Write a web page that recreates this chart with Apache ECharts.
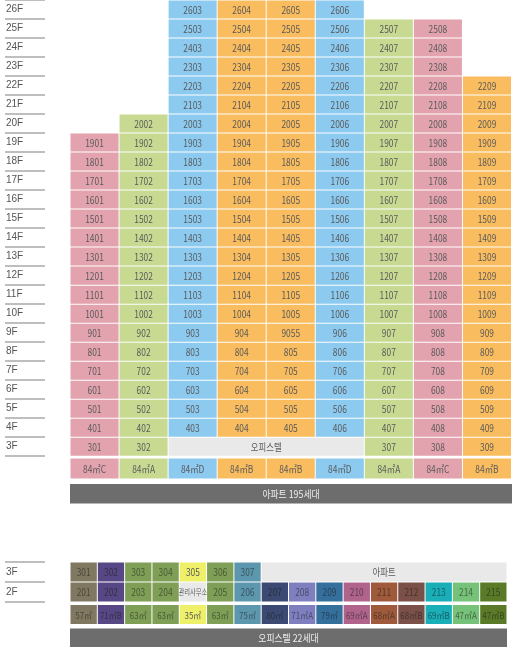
<!DOCTYPE html>
<html><head><meta charset="utf-8">
<script src="https://cdn.jsdelivr.net/npm/echarts@6/dist/echarts.min.js"></script>
<style>html,body{margin:0;padding:0;background:#fff}#c{width:512px;height:647px}</style>
</head><body><div id="c"></div><script>
// ---------- data ----------
const floors = ['3F','4F','5F','6F','7F','8F','9F','10F','11F','12F','13F','14F','15F','16F','17F','18F','19F','20F','21F','22F','23F','24F','25F','26F'];
const floorNumbers = [3,4,5,6,7,8,9,10,11,12,13,14,15,16,17,18,19,20,21,22,23,24,25,26];
const topColumns = ['01','02','03','04','05','06','07','08','09'];
const topColumnTypes = ['84㎡C','84㎡A','84㎡D','84㎡B','84㎡B','84㎡D','84㎡A','84㎡C','84㎡B'];
const topColumnLowFloor = [3,3,4,4,4,4,3,3,3];
const topColumnHighFloor = [19,20,26,26,26,26,25,25,22];
const topOfficetelFloor = 3, topOfficetelFrom = 2, topOfficetelTo = 5, topOfficetelLabel = '오피스텔';
const topLabelFixes = {'9-05': '9055'};
const topTotalLabel = '아파트 195세대';

const bottomFloors = ['2F','3F'];
const bottomRow3 = ['301','302','303','304','305','306','307'];
const bottomRow3Rest = '아파트';
const bottomRow2 = ['201','202','203','204','관리사무소','205','206','207','208','209','210','211','212','213','214','215'];
const bottomTypes = ['57㎡','71㎡B','63㎡','63㎡','35㎡','63㎡','75㎡','80㎡','71㎡A','79㎡','69㎡A','68㎡A','68㎡B','69㎡B','47㎡A','47㎡B'];
const bottomTotalLabel = '오피스텔 22세대';

// ---------- styles ----------
const topTypeColor = {'84㎡C':'#e3a3ae','84㎡A':'#c8da92','84㎡D':'#8ccaf0','84㎡B':'#f9bc5e'};
const bottomTypeColor = {'57㎡':'#807860','71㎡B':'#574785','63㎡':'#7e9f55','35㎡':'#eef06a','75㎡':'#5d97ae','80㎡':'#3c4a73','71㎡A':'#7f7fc0','79㎡':'#356f9b','69㎡A':'#b0648c','68㎡A':'#9e5a3a','68㎡B':'#7a5048','69㎡B':'#1aaeb8','47㎡A':'#76c279','47㎡B':'#5b7a28'};
const FONT = '"Noto Sans CJK KR","Liberation Sans",sans-serif';
const lightText = '#5a5a5a';
const darkText = 'rgba(25,25,25,0.55)';
const grayCell = '#e9e9e9';
const barColor = '#6d6d6d';
const textSqueeze = 0.84;

// ---------- build cells ----------
const topCells = [];
topColumns.forEach((c, ci) => {
  floorNumbers.forEach((f, fi) => {
    if (f < topColumnLowFloor[ci] || f > topColumnHighFloor[ci]) return;
    const key = f + '-' + c;
    topCells.push({value:[ci, ci, fi], label: topLabelFixes[key] || (String(f) + c), fill: topTypeColor[topColumnTypes[ci]], textFill: lightText, size: 10});
  });
});
topCells.push({value:[topOfficetelFrom, topOfficetelTo, floorNumbers.indexOf(topOfficetelFloor)], label: topOfficetelLabel, fill: grayCell, textFill: lightText, size: 10});

const topTypeCells = topColumnTypes.map((t, ci) => ({value:[ci, ci, 0], label: t, fill: topTypeColor[t], textFill: lightText, size: 10}));
const topBarCells = [{value:[0, 0, 0], label: topTotalLabel, fill: barColor, textFill: '#eeeeee', size: 10.5}];

const bottomCells = [];
bottomRow3.forEach((u, ci) => bottomCells.push({value:[ci, ci, 1], label: u, fill: bottomTypeColor[bottomTypes[ci]], textFill: bottomTypes[ci] === '35㎡' ? lightText : darkText, size: 10}));
bottomCells.push({value:[bottomRow3.length, bottomTypes.length - 1, 1], label: bottomRow3Rest, fill: grayCell, textFill: lightText, size: 10});
bottomRow2.forEach((u, ci) => {
  const isOffice = u === '관리사무소';
  bottomCells.push({value:[ci, ci, 0], label: u, fill: isOffice ? grayCell : bottomTypeColor[bottomTypes[ci]], textFill: isOffice || bottomTypes[ci] === '35㎡' ? lightText : darkText, size: isOffice ? 7.5 : 10});
});
const bottomTypeCells = bottomTypes.map((t, ci) => ({value:[ci, ci, 0], label: t, fill: bottomTypeColor[t], textFill: t === '35㎡' ? lightText : darkText, size: 9.5}));
const bottomBarCells = [{value:[0, 0, 0], label: bottomTotalLabel, fill: barColor, textFill: '#eeeeee', size: 10.5}];

function cellRenderer(list, gap) {
  return function (params, api) {
    const d = list[params.dataIndex];
    const a = api.coord([d.value[0], d.value[2]]);
    const b = api.coord([d.value[1], d.value[2]]);
    const sz = api.size([1, 1]);
    const x = a[0] - sz[0] / 2 + gap / 2, w = b[0] - a[0] + sz[0] - gap;
    const y = a[1] - sz[1] / 2 + gap / 2, h = sz[1] - gap;
    return {type: 'group', children: [
      {type: 'rect', shape: {x, y, width: w, height: h}, style: {fill: d.fill}},
      {type: 'text', x: x + w / 2, y: y + h / 2 + 0.5, scaleX: textSqueeze,
        style: {text: d.label, x: 0, y: 0, align: 'center', verticalAlign: 'middle', fill: d.textFill, font: d.size + 'px ' + FONT}}
    ]};
  };
}

const grids = [
  {left: 70, width: 441.5, top: -1.3, height: 457.5},   // 0 top cells
  {left: 5, width: 40, top: -1.3, height: 457.5},       // 1 top floor labels
  {left: 70, width: 441.5, top: 458, height: 21},       // 2 top type row
  {left: 70, width: 442, top: 484, height: 19.5},       // 3 top total bar
  {left: 70, width: 437, top: 562, height: 40},         // 4 bottom cells
  {left: 5, width: 40, top: 562, height: 40},           // 5 bottom floor labels
  {left: 70, width: 437, top: 604.5, height: 20},       // 6 bottom type row
  {left: 70, width: 437, top: 628.5, height: 19}        // 7 bottom total bar
];
const hidden = {show: false};
function catX(gi, data) { return {gridIndex: gi, type: 'category', data: data, show: false}; }
function catY(gi, data) { return {gridIndex: gi, type: 'category', data: data, show: false}; }
function labelY(gi, data) {
  return {gridIndex: gi, type: 'category', data: data, axisLine: hidden, axisTick: hidden,
    axisLabel: {inside: true, margin: 1, color: '#555', fontSize: 10, fontFamily: '"Liberation Sans",sans-serif', align: 'left'},
    splitLine: {show: true, lineStyle: {color: '#a9a9a9', width: 1.5}}};
}

const option = {
  animation: false,
  grid: grids,
  xAxis: [
    catX(0, topColumns), {gridIndex: 1, type: 'value', show: false}, catX(2, topColumns), catX(3, ['all']),
    catX(4, bottomTypes.map((t, i) => 'c' + i)), {gridIndex: 5, type: 'value', show: false}, catX(6, bottomTypes.map((t, i) => 'c' + i)), catX(7, ['all'])
  ],
  yAxis: [
    catY(0, floors), labelY(1, floors), catY(2, ['type']), catY(3, ['all']),
    catY(4, bottomFloors), labelY(5, bottomFloors), catY(6, ['type']), catY(7, ['all'])
  ],
  series: [
    {type: 'custom', xAxisIndex: 0, yAxisIndex: 0, renderItem: cellRenderer(topCells, 1), data: topCells.map(d => d.value), encode: {x: [0, 1], y: 2}},
    {type: 'custom', xAxisIndex: 2, yAxisIndex: 2, renderItem: cellRenderer(topTypeCells, 1), data: topTypeCells.map(d => d.value), encode: {x: [0, 1], y: 2}},
    {type: 'custom', xAxisIndex: 3, yAxisIndex: 3, renderItem: cellRenderer(topBarCells, 0), data: topBarCells.map(d => d.value), encode: {x: [0, 1], y: 2}},
    {type: 'custom', xAxisIndex: 4, yAxisIndex: 4, renderItem: cellRenderer(bottomCells, 1), data: bottomCells.map(d => d.value), encode: {x: [0, 1], y: 2}},
    {type: 'custom', xAxisIndex: 6, yAxisIndex: 6, renderItem: cellRenderer(bottomTypeCells, 1), data: bottomTypeCells.map(d => d.value), encode: {x: [0, 1], y: 2}},
    {type: 'custom', xAxisIndex: 7, yAxisIndex: 7, renderItem: cellRenderer(bottomBarCells, 0), data: bottomBarCells.map(d => d.value), encode: {x: [0, 1], y: 2}}
  ]
};
const chart = echarts.init(document.getElementById('c'), null, {renderer: 'canvas'});
chart.setOption(option);
</script></body></html>
